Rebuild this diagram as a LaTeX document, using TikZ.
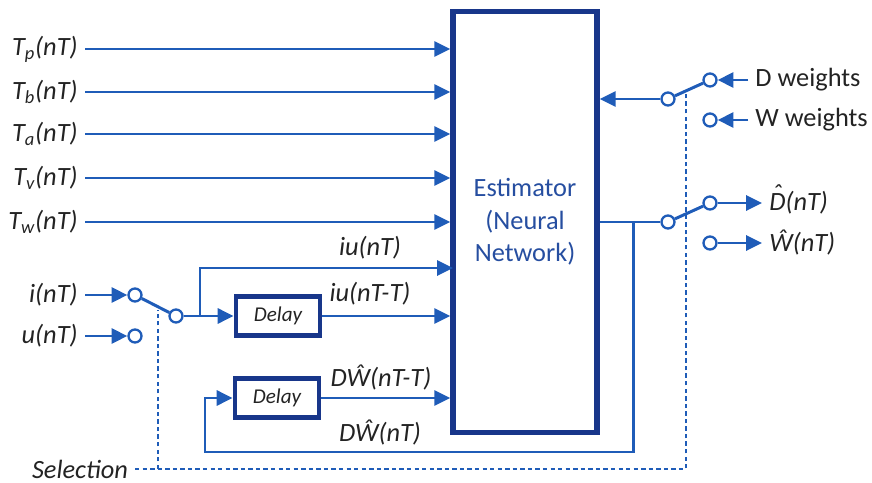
\documentclass[tikz,border=0pt]{standalone}
\usepackage{fontspec}
\setmainfont{Carlito}
\usetikzlibrary{arrows.meta}
\definecolor{sigblue}{RGB}{31,92,184}
\definecolor{boxnavy}{RGB}{24,54,138}
\definecolor{estblue}{RGB}{38,78,160}
\definecolor{txtgray}{RGB}{35,35,35}
\newcommand{\hatD}{\ooalign{D\cr\hidewidth\raisebox{0.62ex}{ˆ}\hidewidth\cr}}
\tikzset{
  sig/.style={draw=sigblue, line width=1.7pt, -{Triangle[length=9pt,width=8.5pt]}},
  wire/.style={draw=sigblue, line width=1.7pt},
  ctrl/.style={draw=sigblue, line width=1.1pt, dash pattern=on 2.5pt off 1.8pt},
  sw/.style={circle, draw=sigblue, fill=white, line width=1.3pt, minimum size=0.26cm, inner sep=0pt},
  lbl/.style={text=txtgray, font=\fontsize{15}{18}\selectfont\itshape, inner sep=4pt},
  delaybox/.style={draw=boxnavy, line width=2.8pt, minimum width=1.68cm, minimum height=0.78cm,
    font=\fontsize{12}{14}\selectfont\itshape, text=txtgray},
}
\begin{document}
\begin{tikzpicture}[x=0.02cm, y=-0.02cm]
    \useasboundingbox (0,0) rectangle (872,483);

    % 估计器
    \node [draw=boxnavy, line width=3.2pt, minimum width=2.88cm, minimum height=8.42cm,
           text=estblue, align=center, font=\fontsize{15}{18.5}\selectfont] (est) at (525,222)
          {Estimator\\(Neural\\Network)};

    % 温度输入
    \node [lbl, anchor=east] (tp) at (85,49)  {T\textsubscript{p}(nT)};
    \node [lbl, anchor=east] (tb) at (85,92)  {T\textsubscript{b}(nT)};
    \node [lbl, anchor=east] (ta) at (85,134) {T\textsubscript{a}(nT)};
    \node [lbl, anchor=east] (tv) at (85,178) {T\textsubscript{v}(nT)};
    \node [lbl, anchor=east] (tw) at (85,222) {T\textsubscript{w}(nT)};
    \draw [sig] (tp.east) -- (est.west |- tp.east);
    \draw [sig] (tb.east) -- (est.west |- tb.east);
    \draw [sig] (ta.east) -- (est.west |- ta.east);
    \draw [sig] (tv.east) -- (est.west |- tv.east);
    \draw [sig] (tw.east) -- (est.west |- tw.east);

    % 输入开关
    \node [lbl, anchor=east] (iin) at (85,295) {i(nT)};
    \node [lbl, anchor=east] (uin) at (85,336) {u(nT)};
    \node [sw] (ci) at (135,295) {};
    \node [sw] (cu) at (135,336) {};
    \node [sw] (cp) at (176,316) {};
    \draw [sig] (iin.east) -- (ci.west);
    \draw [sig] (uin.east) -- (cu.west);
    \draw [wire] (ci) -- (cp);

    % 延迟单元
    \node [delaybox] (d1) at (278,316) {Delay};
    \node [delaybox] (d2) at (277,398) {Delay};

    \coordinate (j1) at (200,316);
    \coordinate (e1) at (453,268);
    \draw [sig] (cp.east) -- (d1.west);
    \draw [sig] (j1) |- (e1);
    \draw [sig] (d1.east) -- (est.west |- d1.east);
    \draw [sig] (d2.east) -- (est.west |- d2.east);
    \node [lbl] (liu)  at (370,248) {iu(nT)};
    \node [lbl] (liut) at (370,294) {iu(nT-T)};
    \node [lbl] (ldwt) at (381,378) {DŴ(nT-T)};
    \node [lbl] (ldw)  at (380,433) {DŴ(nT)};

    % 输出开关
    \node [sw] (op) at (668,222) {};
    \node [sw] (od) at (710,203) {};
    \node [sw] (ow) at (710,243) {};
    \draw [wire] (est.east) -- (op.west);
    \draw [wire] (op) -- (od);
    \node [lbl, anchor=west] (dout) at (762,203) {\hatD(nT)};
    \node [lbl, anchor=west] (wout) at (762,243) {Ŵ(nT)};
    \draw [sig] (od.east) -- (dout.west);
    \draw [sig] (ow.east) -- (wout.west);

    % 反馈
    \coordinate (j2) at (633,222);
    \coordinate (fb) at (205,452);
    \draw [sig] (j2) |- (fb) |- (d2.west);

    % 权重开关
    \node [sw] (ip) at (668,99) {};
    \node [sw] (idw) at (710,80) {};
    \node [sw] (iww) at (710,120) {};
    \draw [wire] (ip) -- (idw);
    \draw [sig] (ip.west) -- (est.east |- ip.west);
    \node [lbl, anchor=west, font=\fontsize{15}{18}\selectfont] (dwt) at (748,80) {D weights};
    \node [lbl, anchor=west, font=\fontsize{15}{18}\selectfont] (wwt) at (748,120) {W weights};
    \draw [sig] (dwt.west) -- (idw.east);
    \draw [sig] (wwt.west) -- (iww.east);

    % 选择信号
    \node [lbl, anchor=east, inner sep=1pt] (sel) at (130,469) {Selection};
    \coordinate (sl) at (158,469);
    \coordinate (st) at (158,310);
    \coordinate (sr) at (686,469);
    \coordinate (su) at (686,92);
    \draw [ctrl] ([xshift=0.1cm]sel.east) -- (sr) -- (su);
    \draw [ctrl] (sl) -- (st);

\end{tikzpicture}
\end{document}
